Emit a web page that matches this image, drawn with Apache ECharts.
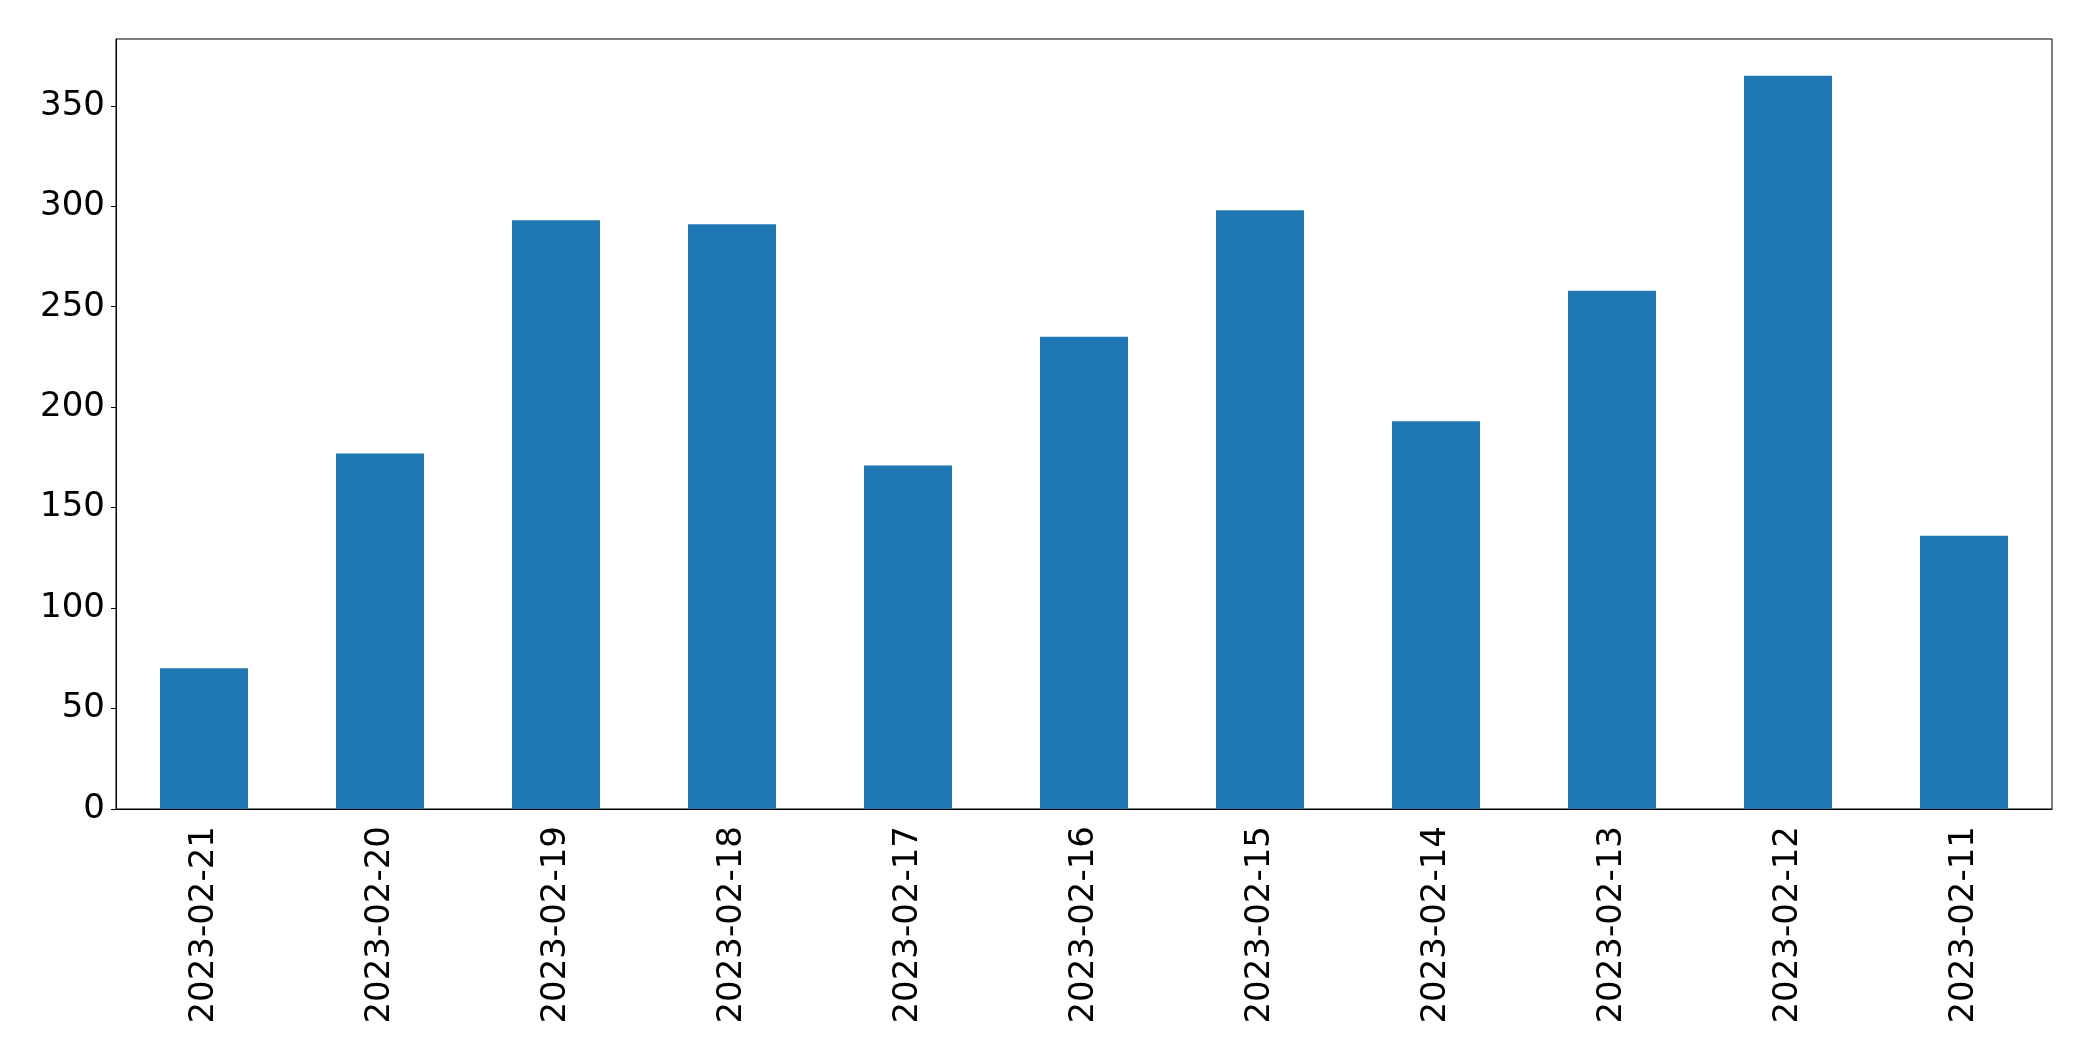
<!DOCTYPE html>
<html>
<head>
<meta charset="utf-8">
<script src="https://cdn.jsdelivr.net/npm/echarts@6/dist/echarts.min.js"></script>
<style>
  html, body { margin: 0; padding: 0; background: #fff; }
  #chart { width: 2093px; height: 1061px; }
</style>
</head>
<body>
<div id="chart"></div>
<script>
// daily counts, newest first (as in the source plot)
const days = ["2023-02-21", "2023-02-20", "2023-02-19", "2023-02-18", "2023-02-17", "2023-02-16",
  "2023-02-15", "2023-02-14", "2023-02-13", "2023-02-12", "2023-02-11"];
const counts = [70, 177, 293, 291, 171, 235, 298, 193, 258, 365, 136];
const yTicks = [0, 50, 100, 150, 200, 250, 300, 350];

const FONT = "DejaVu Sans";
const BAR = "#1f77b4";
const yMax = Math.max(...counts) * 1.05; // matplotlib-style 5% headroom

echarts.init(document.getElementById("chart")).setOption({
  animation: false,
  grid: { left: 116, right: 41, top: 39, bottom: 252, show: true, borderColor: "#000", borderWidth: 1 },
  xAxis: {
    type: "category", data: days,
    axisLine: { lineStyle: { color: "#000", width: 1 } },
    axisTick: { alignWithLabel: true, length: 5, lineStyle: { color: "#000" } },
    axisLabel: { rotate: 90, margin: 17, color: "#000", fontFamily: FONT, fontSize: 34 },
  },
  yAxis: {
    type: "value", min: 0, max: yMax,
    splitLine: { show: false },
    axisLine: { show: true, lineStyle: { color: "#000", width: 1 } },
    axisTick: { show: true, length: 5, customValues: yTicks, lineStyle: { color: "#000" } },
    axisLabel: { margin: 11, color: "#000", fontFamily: FONT, fontSize: 34, customValues: yTicks },
  },
  series: [{ type: "bar", data: counts, barWidth: "50%", itemStyle: { color: BAR } }],
});
</script>
</body>
</html>
